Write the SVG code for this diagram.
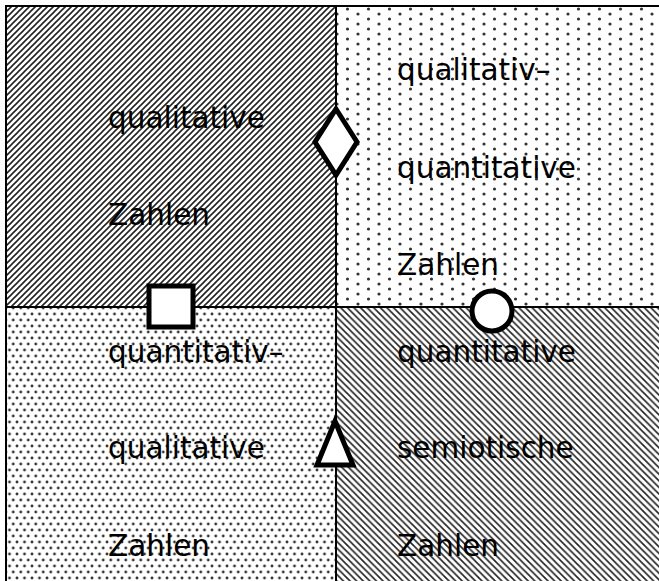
<svg xmlns="http://www.w3.org/2000/svg" width="659" height="581" viewBox="0 0 659 581">
  <defs>
    <!-- rising diagonal hatch -->
    <pattern id="hatchUp" patternUnits="userSpaceOnUse" width="6" height="6">
      <path d="M-1,7 L7,-1 M-4,4 L4,-4 M2,10 L10,2" stroke="#222" stroke-width="1.6"/>
    </pattern>
    <!-- falling diagonal hatch -->
    <pattern id="hatchDown" patternUnits="userSpaceOnUse" width="6.6" height="6.6">
      <path d="M-1,-1 L7.6,7.6 M-4.3,2.3 L2.3,8.9 M2.3,-4.3 L8.9,2.3" stroke="#222" stroke-width="1.6"/>
    </pattern>
    <!-- sparse dot screen -->
    <pattern id="dotsSparse" patternUnits="userSpaceOnUse" width="21" height="10" x="1" y="4">
      <circle cx="0" cy="0" r="1.6" fill="#333"/>
      <circle cx="21" cy="0" r="1.6" fill="#333"/>
      <circle cx="0" cy="10" r="1.6" fill="#333"/>
      <circle cx="21" cy="10" r="1.6" fill="#333"/>
      <circle cx="10.5" cy="5" r="1.6" fill="#333"/>
    </pattern>
    <!-- dense dot screen -->
    <pattern id="dotsDense" patternUnits="userSpaceOnUse" width="7.5" height="12" x="2" y="2">
      <circle cx="0" cy="0" r="1.4" fill="#333"/>
      <circle cx="7.5" cy="0" r="1.4" fill="#333"/>
      <circle cx="0" cy="12" r="1.4" fill="#333"/>
      <circle cx="7.5" cy="12" r="1.4" fill="#333"/>
      <circle cx="3.75" cy="6" r="1.4" fill="#333"/>
    </pattern>
  </defs>
  <style>
    text { font-family: "DejaVu Sans", "Liberation Sans", sans-serif; font-size: 29.5px; fill: #000; }
    .rule { stroke: #000; stroke-width: 2; fill: none; }
    .mark { stroke: #000; stroke-width: 5; fill: #fff; }
  </style>

  <rect width="659" height="581" fill="#fff"/>

  <!-- quadrant fills -->
  <g id="quadrants">
    <rect id="q-top-left" x="6" y="6" width="330" height="301" fill="url(#hatchUp)"/>
    <rect id="q-top-right" x="336" y="6" width="323" height="301" fill="url(#dotsSparse)"/>
    <rect id="q-bottom-left" x="6" y="307" width="330" height="274" fill="url(#dotsDense)"/>
    <rect id="q-bottom-right" x="336" y="307" width="323" height="274" fill="url(#hatchDown)"/>
  </g>

  <!-- frame and dividing lines -->
  <g id="connectors">
    <line class="rule" x1="5" y1="6" x2="659" y2="6"/>
    <line class="rule" x1="6" y1="5" x2="6" y2="581"/>
    <line class="rule" x1="336" y1="6" x2="336" y2="581"/>
    <line class="rule" x1="6" y1="307" x2="659" y2="307"/>
  </g>

  <g id="label-top-left">
    <text x="108" y="128">qualitative</text>
    <text x="108" y="225">Zahlen</text>
  </g>
  <g id="label-top-right">
    <text x="397" y="80">qualitativ–</text>
    <text x="397" y="178">quantitative</text>
    <text x="397" y="275">Zahlen</text>
  </g>
  <g id="label-bottom-left">
    <text x="108" y="362">quantitativ–</text>
    <text x="108" y="458">qualitative</text>
    <text x="108" y="556">Zahlen</text>
  </g>
  <g id="label-bottom-right">
    <text x="397" y="362">quantitative</text>
    <text x="397" y="458">semiotische</text>
    <text x="397" y="556">Zahlen</text>
  </g>

  <!-- markers on the dividing lines -->
  <g id="diamond"><polygon class="mark" points="336,109 357,142 336,175 315,142"/></g>
  <g id="square"><rect class="mark" x="149" y="286" width="44" height="41"/></g>
  <g id="circle"><circle class="mark" cx="492" cy="311" r="20"/></g>
  <g id="triangle"><polygon class="mark" points="335,421 353,465 317,465"/></g>
</svg>
